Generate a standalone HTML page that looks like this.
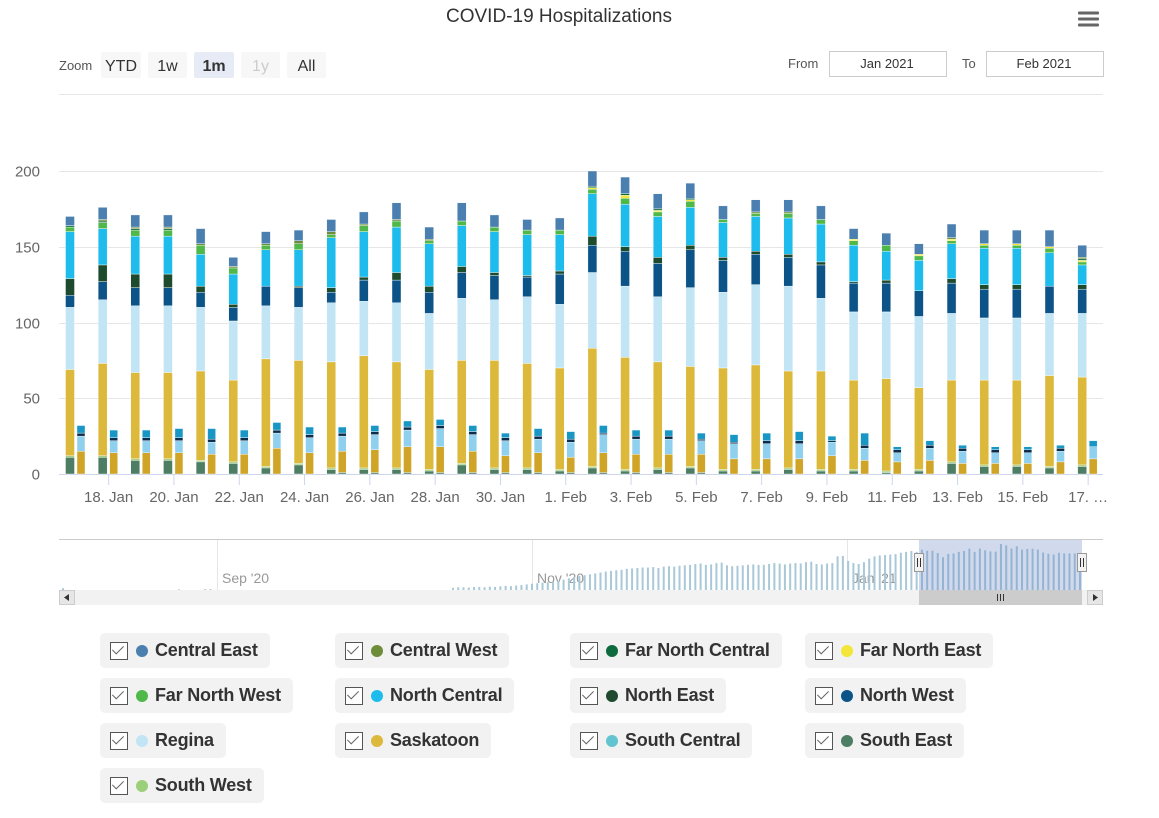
<!DOCTYPE html>
<html><head><meta charset="utf-8"><style>
body{margin:0;background:#fff;font-family:"Liberation Sans",sans-serif;}
#wrap{position:relative;width:1159px;height:818px;overflow:hidden;}
.leg{position:absolute;height:35px;background:#f2f2f2;border-radius:5px;display:flex;align-items:center;padding:0 12px 0 10px;box-sizing:border-box;font-size:18px;font-weight:bold;color:#333;letter-spacing:-0.2px;}
.cb{width:18px;height:18px;border:1.5px solid #555;background:#fff;margin-right:8px;position:relative;box-sizing:border-box;}
.cb:after{content:"";position:absolute;left:4px;top:0px;width:5px;height:10px;border:solid #666;border-width:0 1.5px 1.5px 0;transform:rotate(45deg);}
.dot{width:12px;height:12px;border-radius:50%;margin-right:7px;}
</style></head><body><div id="wrap">
<svg id="svg" width="1159" height="818" style="position:absolute;left:0;top:0"></svg>
</div>
<script>
const dates=["17. Jan","18. Jan","19. Jan","20. Jan","21. Jan","22. Jan","23. Jan","24. Jan","25. Jan","26. Jan","27. Jan","28. Jan","29. Jan","30. Jan","31. Jan","1. Feb","2. Feb","3. Feb","4. Feb","5. Feb","6. Feb","7. Feb","8. Feb","9. Feb","10. Feb","11. Feb","12. Feb","13. Feb","14. Feb","15. Feb","16. Feb","17. Feb"];
const yTicks=[0,50,100,150,200];
const southEast=[11,11,9,9,8,7,4,6,3,3,3,2,6,3,3,2,4,2,3,4,2,2,3,2,2,1,2,7,5,5,4,5];
const southWest=[1,1,1,1,1,1,1,1,1,1,1,1,1,1,1,1,1,1,1,1,1,1,1,1,1,1,1,1,1,1,1,1];
const saskatoon=[57,61,57,57,59,54,71,68,70,74,70,66,68,71,69,67,78,74,70,66,67,69,64,65,59,61,54,54,56,56,60,58];
const regina=[41,42,44,44,42,39,35,35,39,36,39,37,41,40,44,42,50,47,43,52,50,53,56,48,45,44,47,44,41,41,41,42];
const northWest=[8,12,12,12,10,9,13,13,7,14,15,14,17,16,13,20,18,23,22,25,21,20,19,22,19,19,17,20,19,19,18,16];
const northEast=[11,11,9,9,4,2,0,1,3,2,5,4,4,2,1,2,6,3,4,3,2,2,2,2,1,2,0,3,3,3,0,3];
const northCentral=[31,24,25,25,21,20,24,24,33,30,30,28,27,27,27,24,28,28,27,25,23,23,24,25,24,19,20,23,24,24,22,13];
const farNorthWest=[3,4,4,4,6,4,3,4,2,4,4,2,3,3,3,3,3,4,3,4,2,2,3,3,3,4,3,2,2,2,3,2];
const farNorthEast=[0,0,0,0,0,0,0,0,0,0,0,0,0,0,0,0,1,2,1,1,0,0,0,0,1,0,1,1,1,1,1,1];
const farNorthCentral=[1,1,1,1,0,0,0,0,0,0,0,0,0,0,0,0,1,1,1,1,0,0,0,0,0,0,0,0,0,0,0,1];
const centralWest=[0,1,1,1,1,1,1,2,2,1,1,1,0,0,0,0,0,0,0,0,0,1,1,0,0,0,0,1,0,0,0,1];
const centralEast=[6,8,8,8,10,6,8,7,8,8,11,8,12,8,7,8,10,11,10,10,9,8,8,9,7,8,7,9,9,9,11,8];
const icuSaskatoon=[15,14,14,14,13,13,17,14,14,15,17,17,14,11,13,10,13,12,12,12,10,10,10,12,9,8,9,7,7,7,8,10];
const icuSouthEast=[0,0,0,0,0,0,0,0,1,1,1,1,1,1,1,1,1,1,1,1,0,0,0,0,0,0,0,0,0,0,0,0];
const icuRegina=[10,8,8,8,8,9,10,10,10,10,11,12,11,10,9,10,12,10,10,9,10,10,10,9,8,6,8,8,7,7,7,8];
const icuNorthWest=[2,2,2,2,2,2,2,2,2,2,2,2,2,2,2,2,1,2,2,1,1,2,2,1,2,2,2,2,2,2,2,0];
const icuNorthCentral=[5,5,5,6,7,5,5,5,4,4,4,4,4,3,5,5,5,4,4,4,5,5,6,3,8,2,3,2,2,2,2,4];
const navValues=[8,0,0,0,0,0,0,0,0,0,0,0,0,0,0,0,0,0,0,0,0,0,3,0,0,0,0,4,4,0,0,0,0,0,0,0,0,0,0,0,0,0,0,0,0,0,0,0,0,0,0,0,0,0,0,0,0,0,0,0,0,0,0,0,0,0,0,0,0,0,0,0,0,0,
10,12,12,11,13,14,12,15,14,16,18,17,20,22,25,28,30,33,35,38,40,46,52,58,62,66,70,74,78,82,85,88,90,94,96,98,100,100,102,98,104,106,104,108,110,112,116,118,112,114,120,122,110,106,108,110,112,114,112,112,116,120,118,114,118,120,118,124,126,116,114,118,120,150,152,130,120,116,124,140,150,154,156,158,160,166,170,174,170,180,175,175,165,146,161,163,170,174,184,170,185,177,172,171,205,199,185,195,180,183,184,180,167,162,158,166,163,163,163,154];
const colors={se:"#4d7e63",sw:"#9ccf79",sk:"#dcb83b",reg:"#c2e5f6",nw:"#0c5488",ne:"#1e4a2d",nc:"#1dbced",fnw:"#4fb848",fne:"#f3e638",fnc:"#0d6a3c",cw:"#6e8d3a",ce:"#4a7fb0"};
const icuColors={se:"#4d7e63",sk:"#cfa427",reg:"#8fd0ee",nw:"#0a2d4c",nc:"#1896c4"};
const NS="http://www.w3.org/2000/svg";
const svg=document.getElementById('svg');
function mk(tag,attrs,parent){const e=document.createElementNS(NS,tag);for(const k in attrs)e.setAttribute(k,attrs[k]);(parent||svg).appendChild(e);return e;}
const y0=474,yScale=(474-171)/200;
function yPos(v){return y0-v*yScale;}
function xGroup(i){return 76+i*32.65;}
let t=mk('text',{x:559,y:22,'text-anchor':'middle','font-size':19,fill:'#333'});t.textContent='COVID-19 Hospitalizations';


const hb=mk('g',{});


[13,19,25].forEach(yy=>mk('rect',{x:1078,y:yy-1.5,width:21,height:3,fill:'#666',rx:1},hb));
t=mk('text',{x:59,y:70,'font-size':13,fill:'#555'});t.textContent='Zoom';


const btns=[["YTD",101,40,0],["1w",148,39,0],["1m",194,40,1],["1y",241,39,2],["All",287,39,0]];
btns.forEach(b=>{const g=mk('g',{});


mk('rect',{x:b[1],y:52,width:b[2],height:26,rx:2,fill:b[3]==1?'#e6ebf5':'#f7f7f7'},g);
const tt=mk('text',{x:b[1]+b[2]/2,y:71,'text-anchor':'middle','font-size':16,fill:b[3]==2?'#ccc':'#333','font-weight':b[3]==1?'bold':'normal'},g);tt.textContent=b[0];});
t=mk('text',{x:788,y:68,'font-size':13,fill:'#555'});t.textContent='From';

t=mk('text',{x:962,y:68,'font-size':13,fill:'#555'});t.textContent='To';

[[829,'Jan 2021','from-date-input'],[986,'Feb 2021','to-date-input']].forEach(d=>{const g=mk('g',{});


mk('rect',{x:d[0]+.5,y:51.5,width:117,height:25,fill:'#fff',stroke:'#ccc'},g);
const tt=mk('text',{x:d[0]+58,y:68,'text-anchor':'middle','font-size':13,fill:'#333'},g);tt.textContent=d[1];});
mk('line',{x1:59,x2:1103,y1:94.5,y2:94.5,stroke:'#e6e6e6'});
yTicks.forEach(v=>{const yy=Math.round(yPos(v))+.5;
const l=mk('line',{x1:59,x2:1103,y1:yy,y2:yy,stroke:v===0?'#ccd6eb':'#e6e6e6'});

const tt=mk('text',{x:40,y:yy+5,'text-anchor':'end','font-size':15,fill:'#666'});tt.textContent=v;
});
const order=[["se",southEast],["sw",southWest],["sk",saskatoon],["reg",regina],["nw",northWest],["ne",northEast],["nc",northCentral],["fnw",farNorthWest],["fne",farNorthEast],["fnc",farNorthCentral],["cw",centralWest],["ce",centralEast]];
const icuOrder=[["se",icuSouthEast],["sk",icuSaskatoon],["reg",icuRegina],["nw",icuNorthWest],["nc",icuNorthCentral]];
dates.forEach((d,i)=>{const cx=xGroup(i);let cum=0;
order.forEach(([k,arr])=>{const v=arr[i];if(v<=0)return;const top=yPos(cum+v),bot=yPos(cum);
const r=mk('rect',{x:cx-10.5,y:top,width:9,height:bot-top,fill:colors[k],stroke:'#fff','stroke-width':0.4});
cum+=v;});
cum=0;
icuOrder.forEach(([k,arr])=>{const v=arr[i];if(v<=0)return;const top=yPos(cum+v),bot=yPos(cum);
const r=mk('rect',{x:cx+1,y:top,width:8,height:bot-top,fill:icuColors[k],stroke:'#fff','stroke-width':0.4});
cum+=v;});
if(i%2===1){mk('line',{x1:cx,x2:cx,y1:475,y2:485,stroke:'#ccd6eb'});
const tt=mk('text',{x:cx,y:502,'text-anchor':'middle','font-size':15,fill:'#666'});tt.textContent=i===31?'17. …':d;
}
});
const nav=mk('g',{});


mk('line',{x1:59,x2:1103,y1:539.5,y2:539.5,stroke:'#ccc'},nav);
[[218,"Sep '20"],[533,"Nov '20"],[848,"Jan '21"]].forEach(a=>{mk('line',{x1:a[0]-0.5,x2:a[0]-0.5,y1:540,y2:590,stroke:'#e6e6e6'},nav);
const tt=mk('text',{x:a[0]+4,y:583,'font-size':14,fill:'#999'},nav);tt.textContent=a[1];});
const navX0=62,navDx=(1079-62)/(navValues.length-1),navH=46/205;
navValues.forEach((v,i)=>{if(v<=0)return;mk('rect',{x:navX0+i*navDx,y:590-v*navH,width:2,height:v*navH,fill:'#a9c8d8'},nav);});
mk('rect',{x:919,y:540,width:163,height:50,fill:'rgba(102,133,194,0.3)'},nav);
[919,1082].forEach(hx=>{mk('rect',{x:hx-4.5,y:553.5,width:9,height:18,fill:'#f2f2f2',stroke:'#999'},nav);
mk('line',{x1:hx-1.5,x2:hx-1.5,y1:558,y2:567,stroke:'#333'},nav);mk('line',{x1:hx+1.5,x2:hx+1.5,y1:558,y2:567,stroke:'#333'},nav);});
const sb=mk('g',{});


mk('rect',{x:59,y:590,width:1044,height:15,fill:'#f2f2f2'},sb);
mk('rect',{x:919,y:590,width:163,height:15,fill:'#ccc'},sb);
[997,1000,1003].forEach(x=>mk('line',{x1:x+.5,x2:x+.5,y1:594,y2:601,stroke:'#333'},sb));
mk('rect',{x:59.5,y:590.5,width:15,height:14,fill:'#e6e6e6',stroke:'#ccc'},sb);
mk('rect',{x:1087.5,y:590.5,width:15,height:14,fill:'#e6e6e6',stroke:'#ccc'},sb);
mk('path',{d:'M69 594 L64 597.5 L69 601 Z',fill:'#333'},sb);
mk('path',{d:'M1093 594 L1098 597.5 L1093 601 Z',fill:'#333'},sb);
const legend=[["Central East","#4a7fb0"],["Central West","#6e8d3a"],["Far North Central","#0d6a3c"],["Far North East","#f3e638"],["Far North West","#4fb848"],["North Central","#1dbced"],["North East","#1e4a2d"],["North West","#0c5488"],["Regina","#c2e5f6"],["Saskatoon","#dcb83b"],["South Central","#62c4cf"],["South East","#4d7e63"],["South West","#9ccf79"]];
const colX=[100,335,570,805];
legend.forEach((l,i)=>{const d=document.createElement('div');d.className='leg';
d.style.left=colX[i%4]+'px';d.style.top=(633+Math.floor(i/4)*45)+'px';


d.innerHTML='<span class="cb"></span><span class="dot" style="background:'+l[1]+'"></span><span>'+l[0]+'</span>';
document.getElementById('wrap').appendChild(d);});
</script></body></html>
